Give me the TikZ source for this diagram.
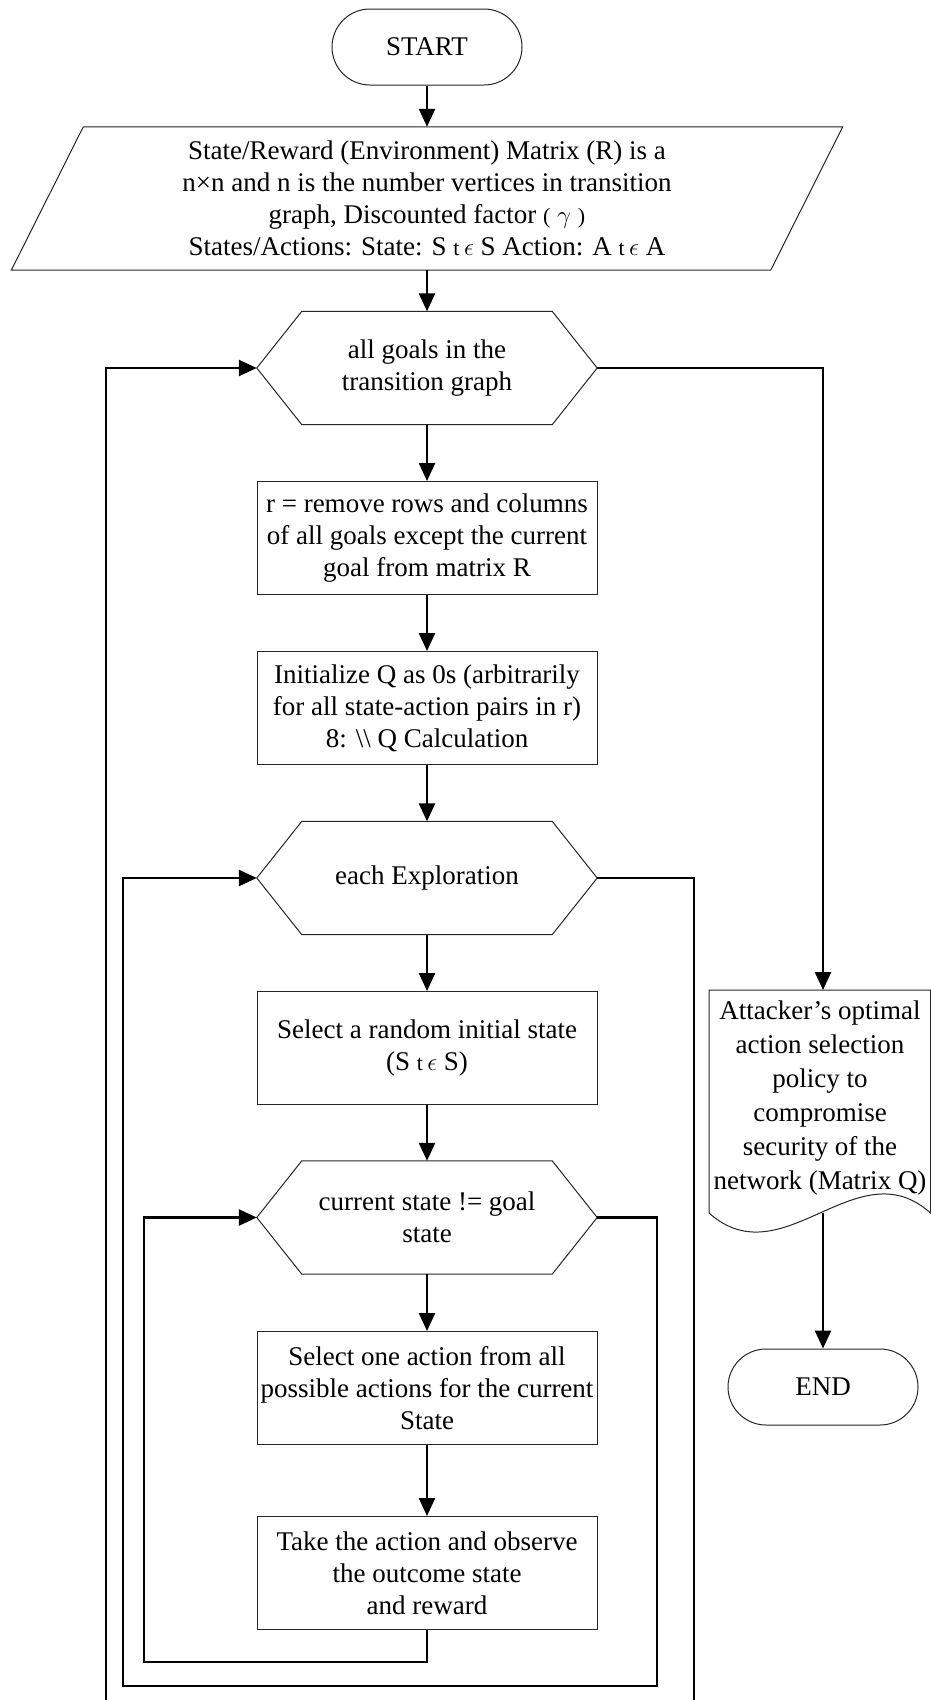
\documentclass[tikz,border=0pt]{standalone}
\usepackage{fontspec}
\setmainfont{Liberation Serif}
\usetikzlibrary{arrows.meta}
\newcommand{\hexout}[1]{\draw[outline] (#1.west) -- ([xshift=45pt]#1.north west) -- ([xshift=-45pt]#1.north east) -- (#1.east) -- ([xshift=-45pt]#1.south east) -- ([xshift=45pt]#1.south west) -- cycle;}
\newcommand{\sm}[1]{{\fontsize{22}{26}\selectfont #1}}
\newcommand{\tin}{\sm{t}\,$\epsilon$}
\begin{document}
\begin{tikzpicture}[x=1pt,y=-1pt,font=\fontsize{27}{32}\selectfont,
  outline/.style={draw=black!85,line width=1pt},
  conn/.style={line width=2.5pt,-{Triangle[length=18pt,width=16pt]}},
  procbox/.style={outline,rectangle,minimum width=340pt,minimum height=113pt,align=center,inner sep=0pt},
  hexnode/.style={rectangle,minimum width=340pt,minimum height=113pt,align=center,inner sep=0pt},
  textonly/.style={align=center,inner sep=0pt},
  term/.style={outline,rectangle,rounded corners=38pt,minimum width=190pt,minimum height=76pt,inner sep=0pt}]
\useasboundingbox (0,0) rectangle (931,1700);

% nodes
\node[term] (start) at (427,47) {START};
\node[textonly,minimum width=759pt,minimum height=143pt] (inp) at (427,198.5)
  {State/Reward (Environment) Matrix (R) is a\\
   n×n and n is the number vertices in transition\\
   graph, Discounted factor \sm{(} $\gamma$ \sm{)}\\
   States/Actions: State: S \tin{} S Action: A \tin{} A};
\draw[outline] ([xshift=36pt]inp.north west) -- ([xshift=36pt]inp.north east) -- ([xshift=-36pt]inp.south east) -- ([xshift=-36pt]inp.south west) -- cycle;

\node[hexnode] (h1) at (427,368) {all goals in the\\transition graph};
\hexout{h1}
\node[procbox] (b1) at (427,538) {r = remove rows and columns\\of all goals except the current\\goal from matrix R};
\node[procbox] (b2) at (427,708) {Initialize Q as 0s (arbitrarily\\for all state-action pairs in r)\\8: \textbackslash\textbackslash{} Q Calculation};
\node[hexnode] (h2) at (427,878) {each Exploration};
\hexout{h2}
\node[procbox] (b3) at (427,1048) {Select a random initial state\\(S \tin{} S)};
\node[hexnode] (h3) at (427,1217.5) {current state != goal\\state};
\hexout{h3}
\node[procbox] (b4) at (427,1388) {Select one action from all\\possible actions for the current\\State};
\node[procbox] (b5) at (427,1573) {Take the action and observe\\the outcome state\\and reward};

\node[textonly,font=\fontsize{27}{34}\selectfont] (doc) at (820,1098)
  {Attacker’s optimal\\action selection\\policy to\\compromise\\security of the\\network (Matrix Q)};
\draw[outline] (709,990) -- (930.5,990) -- (930.5,1213) .. controls (857,1147) and (783,1279) .. (709,1213) -- cycle;
\coordinate (doctop) at (823,990);
\coordinate (docbot) at (823,1213);
\node[term] (end) at (823,1387) {END};

% main flow
\draw[conn] (start.south) -- (inp.north);
\draw[conn] (inp.south) -- (h1.north);
\draw[conn] (h1.south) -- (b1.north);
\draw[conn] (b1.south) -- (b2.north);
\draw[conn] (b2.south) -- (h2.north);
\draw[conn] (h2.south) -- (b3.north);
\draw[conn] (b3.south) -- (h3.north);
\draw[conn] (h3.south) -- (b4.north);
\draw[conn] (b4.south) -- (b5.north);

% loops
\coordinate (l1a) at (144,1662);
\draw[conn] (b5.south) |- (l1a) |- (h3.west);
\coordinate (l2a) at (657,1686);
\coordinate (l2b) at (123,1686);
\draw[conn] (h3.east) -| (l2a) -- (l2b) |- (h2.west);
\coordinate (l3a) at (694,1708);
\coordinate (l3b) at (106,1708);
\draw[conn] (h2.east) -| (l3a) -- (l3b) |- (h1.west);

% exit
\draw[conn] (h1.east) -| (doctop);
\draw[conn] (docbot) -- (end.north);
\end{tikzpicture}
\end{document}
